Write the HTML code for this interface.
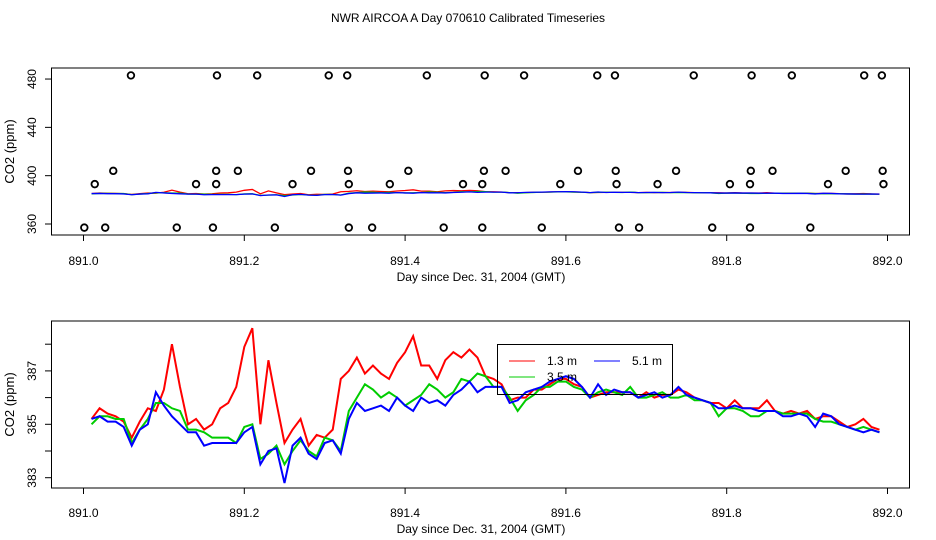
<!DOCTYPE html>
<html><head><meta charset="utf-8"><style>
body{margin:0;background:#fff;}
svg{display:block;font-family:"Liberation Sans",sans-serif;}
</style></head><body>
<svg id="chart" width="936" height="540">
<text x="468" y="22" text-anchor="middle" font-size="12">NWR AIRCOA A  Day 070610  Calibrated Timeseries</text>
</svg>
<script>
const days=[];for(let k=1;k<=99;k++)days.push(891+0.01*k);
const red=[385.2,385.6,385.4,385.3,385.1,384.5,385.1,385.6,385.5,386.3,388.0,386.4,385.0,385.2,384.8,385.0,385.6,385.8,386.4,387.9,388.6,385.0,387.4,385.8,384.3,384.8,385.2,384.2,384.6,384.5,384.8,386.7,387.0,387.5,386.9,387.2,386.9,386.7,387.3,387.7,388.3,387.2,387.2,386.7,387.4,387.7,387.5,387.8,387.5,386.8,386.7,386.5,385.9,386.0,386.0,386.3,386.3,386.5,386.7,386.7,386.5,386.4,386.0,386.1,386.2,386.2,386.2,386.2,386.0,386.2,386.0,386.1,386.1,386.3,386.2,386.0,385.9,385.8,385.8,385.6,385.9,385.6,385.6,385.6,385.9,385.5,385.4,385.5,385.4,385.5,385.2,385.3,385.3,385.1,384.9,385.0,385.2,384.9,384.8];
const green=[385.0,385.3,385.3,385.2,385.2,384.3,384.8,385.2,385.8,385.8,385.6,385.5,384.8,384.8,384.7,384.5,384.5,384.5,384.3,384.9,385.0,383.7,383.9,384.2,383.5,384.0,384.4,384.0,383.8,384.5,384.4,384.0,385.5,386.0,386.5,386.3,386.0,386.2,386.0,385.7,385.9,386.1,386.5,386.3,386.0,386.2,386.7,386.6,386.9,386.8,386.4,386.4,386.0,385.5,385.9,386.1,386.4,386.4,386.6,386.6,386.4,386.3,386.0,386.2,386.3,386.2,386.1,386.4,386.0,386.0,386.1,386.2,386.0,386.0,386.1,385.9,385.9,385.8,385.3,385.6,385.6,385.5,385.3,385.3,385.5,385.5,385.4,385.4,385.4,385.4,385.2,385.1,385.1,385.0,384.9,384.8,384.9,384.8,384.7];
const blue=[385.2,385.3,385.1,385.1,384.9,384.2,384.8,385.0,386.2,385.7,385.3,385.0,384.7,384.7,384.2,384.3,384.3,384.3,384.3,384.7,384.9,383.5,384.0,384.1,382.8,384.2,384.5,383.9,383.7,384.3,384.4,383.9,385.2,385.8,385.5,385.6,385.7,385.5,386.0,385.7,385.5,386.0,385.8,385.9,385.7,386.1,386.3,386.6,386.2,386.4,386.4,386.4,385.8,385.9,386.2,386.3,386.4,386.6,386.7,386.8,386.7,386.4,386.0,386.5,386.1,386.3,386.2,386.2,386.0,386.1,386.2,386.0,386.1,386.4,386.1,386.0,385.9,385.8,385.6,385.6,385.7,385.6,385.6,385.5,385.5,385.5,385.3,385.3,385.4,385.3,384.9,385.4,385.3,385.0,384.9,384.8,384.7,384.8,384.7];
const circleDays=[891.059,891.166,891.216,891.305,891.328,891.427,891.499,891.548,891.639,891.661,891.759,891.831,891.881,891.971,891.993,891.037,891.165,891.192,891.283,891.329,891.404,891.498,891.525,891.615,891.662,891.737,891.830,891.857,891.948,891.994,891.014,891.140,891.165,891.260,891.330,891.381,891.472,891.496,891.593,891.663,891.714,891.804,891.829,891.926,891.995,891.001,891.027,891.116,891.161,891.238,891.330,891.359,891.448,891.496,891.570,891.666,891.691,891.782,891.829,891.904];
const circleVals=[483,483,483,483,483,483,483,483,483,483,483,483,483,483,483,404,404,404,404,404,404,404,404,404,404,404,404,404,404,404,393,393,393,393,393,393,393,393,393,393,393,393,393,393,393,357,357,357,357,357,357,357,357,357,357,357,357,357,357,357];
const xTicks=[891.0,891.2,891.4,891.6,891.8,892.0];
const topYTicks=[360,400,440,480];
const botYTicks=[383,384,385,386,387,388];
const botYLabels=[383,385,387];
const NS="http://www.w3.org/2000/svg";
const svg=document.getElementById('chart');
function mk(tag,attrs,parent){const e=document.createElementNS(NS,tag);for(const k in attrs)e.setAttribute(k,attrs[k]);(parent||svg).appendChild(e);return e;}
const xs=d=>83.5+804*(d-891);
const yTop=v=>224-(v-360)*1.208;
const yBot=v=>424.3-(v-385)*26.7;

function panel(name,top,bottom,yfn,yticks,ylabels,titleY,labelY){
  const g=mk('g',{});
  
  
  const box=mk('rect',{x:51.5,y:top,width:858,height:bottom-top,fill:'none',stroke:'#000','stroke-width':1},g);
  
  
  xTicks.forEach(t=>{
    const l=mk('line',{x1:xs(t),x2:xs(t),y1:bottom,y2:bottom+6,stroke:'#000'},g);
    
    
    const tx=mk('text',{x:xs(t),y:labelY,'text-anchor':'middle','font-size':12},g);
    
    
    tx.textContent=t.toFixed(1);
  });
  yticks.forEach(t=>{
    const l=mk('line',{x1:45,x2:51.5,y1:yfn(t),y2:yfn(t),stroke:'#000'},g);
    
    
  });
  ylabels.forEach(t=>{
    const tx=mk('text',{x:0,y:0,'text-anchor':'middle','font-size':12,transform:`translate(36,${yfn(t)}) rotate(-90)`},g);
    
    
    tx.textContent=t;
  });
  const xt=mk('text',{x:481,y:titleY,'text-anchor':'middle','font-size':12},g);
  
  
  xt.textContent='Day since Dec. 31, 2004 (GMT)';
  const yt=mk('text',{x:0,y:0,'text-anchor':'middle','font-size':13,transform:`translate(14,${(top+bottom)/2}) rotate(-90)`},g);
  
  
  yt.textContent='CO2 (ppm)';
  [[red,'#ff0000','red'],[green,'#00cc00','green'],[blue,'#0000ff','blue']].forEach(([arr,c,n])=>{
    const p=mk('polyline',{points:arr.map((v,i)=>xs(days[i])+','+yfn(v)).join(' '),fill:'none',stroke:c,'stroke-width':name==='top-panel'?1.3:2},g);
    
    
  });
  return g;
}
const gTop=panel('top-panel',68,235,yTop,topYTicks,topYTicks,281,265);
circleDays.forEach((d,i)=>{
  const c=mk('circle',{cx:xs(d),cy:yTop(circleVals[i]),r:3.3,fill:'none',stroke:'#000','stroke-width':1.8},gTop);
  
  
});
panel('bottom-panel',321,488,yBot,botYTicks,botYLabels,533,517);

const lg=mk('g',{});


mk('rect',{x:497.5,y:344.5,width:175,height:50,fill:'none',stroke:'#000'},lg);
const entries=[['1.3 m','#ff0000',509,365],['5.1 m','#0000ff',594,365],['3.5 m','#00cc00',509,381]];
entries.forEach(([t,c,x,y])=>{
  const e=mk('g',{},lg);
  
  
  mk('line',{x1:x,x2:x+26,y1:y-4,y2:y-4,stroke:c,'stroke-width':1},e);
  const tx=mk('text',{x:x+38,y:y,'font-size':12},e);
  tx.textContent=t;
});
</script>
</body></html>
